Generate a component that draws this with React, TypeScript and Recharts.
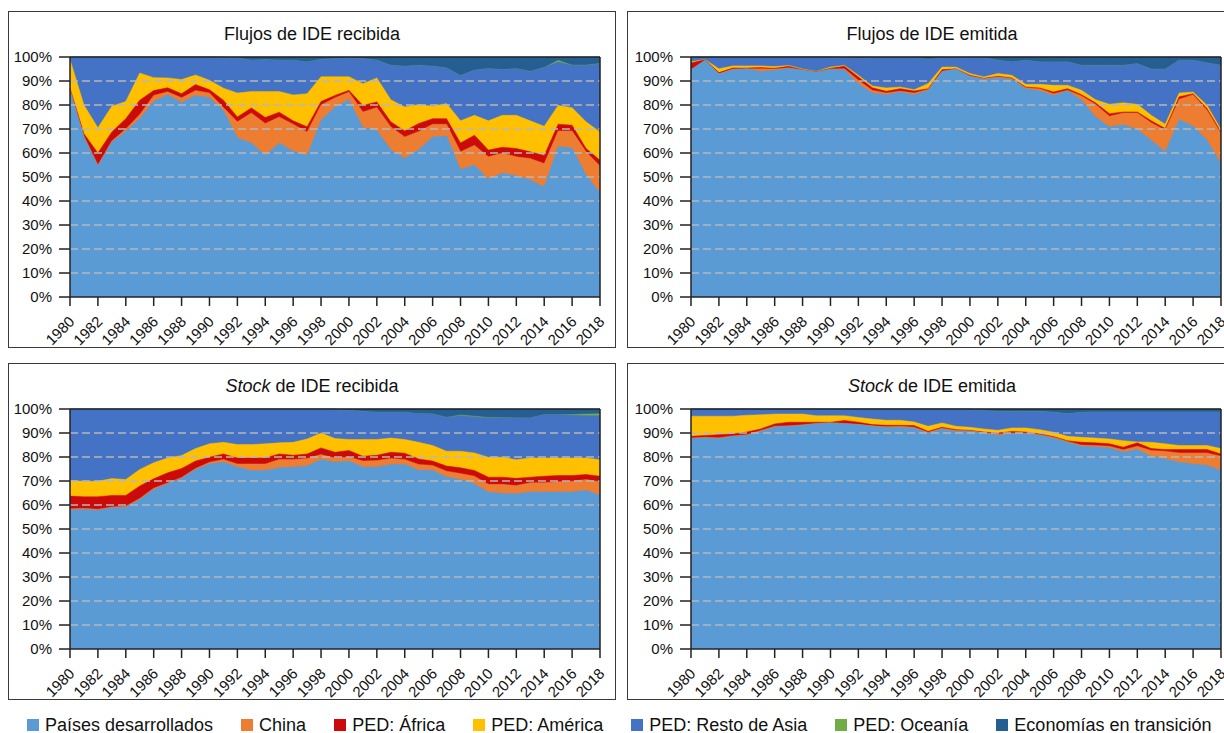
import React from 'react';
import { Area, AreaChart, ReferenceLine, XAxis, YAxis } from 'recharts';

// years on the x axis
const years = [
  1980, 1981, 1982, 1983, 1984, 1985, 1986, 1987, 1988, 1989,
  1990, 1991, 1992, 1993, 1994, 1995, 1996, 1997, 1998, 1999,
  2000, 2001, 2002, 2003, 2004, 2005, 2006, 2007, 2008, 2009,
  2010, 2011, 2012, 2013, 2014, 2015, 2016, 2017, 2018,
];
const yearTicks = [
  1980, 1982, 1984, 1986, 1988, 1990, 1992, 1994, 1996, 1998,
  2000, 2002, 2004, 2006, 2008, 2010, 2012, 2014, 2016, 2018,
];
const pctTicks = [0, 10, 20, 30, 40, 50, 60, 70, 80, 90, 100];
const gridLines = [10, 20, 30, 40, 50, 60, 70, 80, 90];

// Each list is the upper edge (cumulative %) of that group; everything above
// the last one up to 100% is "Economías en transición".

// Flujos de IDE recibida
const frDes = [86, 66.7, 54.6, 64.6, 69, 74.3, 81.5, 84.3, 81, 84, 83, 77.8, 66.4, 64.2, 59, 64.2, 60.7, 59, 73.6, 79.2, 82.2, 70.6, 69.5, 61.4, 57.7, 61.4, 66.7, 67.1, 53.1, 55, 49.1, 51.7, 50.5, 48.7, 45.9, 62.6, 62.1, 50.8, 43.4];
const frChina = [86.3, 67, 55, 65, 70, 76, 84, 85.5, 83, 86, 85, 79, 73, 76.7, 72.3, 75, 72, 68.8, 80, 83, 85.4, 77.1, 79, 70.9, 66.7, 69, 72, 72, 60.5, 63.2, 58.4, 60, 58.4, 57.7, 55.6, 69.2, 69.2, 60.5, 54.6];
const frAfrica = [87, 68, 60, 68.8, 74.3, 82, 86, 87.2, 84.7, 88.5, 86.4, 82, 75, 78.8, 74.8, 77, 73.4, 70.9, 81.5, 84, 86.1, 79.8, 81.3, 73, 69.2, 72.3, 74.3, 74.3, 64.2, 67.4, 61.2, 62.4, 61.9, 60.5, 59, 72, 71.6, 61.9, 57];
const frAmerica = [99, 80, 70.5, 79.5, 81.5, 93.3, 91.4, 91.3, 90.6, 92.5, 90.3, 87, 85, 85.6, 85.6, 85.6, 84.2, 84.7, 91.8, 91.8, 91.8, 88.9, 91.3, 82.2, 79.2, 80.2, 79.5, 80.6, 73.4, 75.7, 73.4, 75.7, 75.7, 73.4, 71.1, 79.8, 78.9, 73, 68.8];
const frAsia = [100, 100, 100, 100, 100, 100, 100, 100, 100, 100, 100, 99.9, 99.6, 98.6, 98.9, 98.6, 98.6, 97.9, 99, 99.3, 99.6, 99.3, 98.6, 96.5, 96.1, 96.5, 96.1, 95.4, 92.2, 94.5, 95.1, 94.7, 95.1, 94, 95.6, 97.9, 96.5, 96.5, 97.2];
const frOceania = [100, 100, 100, 100, 100, 100, 100, 100, 100, 100, 100, 99.9, 99.6, 98.6, 98.9, 98.6, 98.6, 97.9, 99, 99.3, 99.6, 99.3, 98.6, 96.5, 96.1, 96.5, 96.1, 95.4, 92.2, 94.5, 95.1, 94.7, 95.1, 94, 95.6, 98.6, 96.6, 96.6, 97.3];

// Flujos de IDE emitida
const feDes = [94.7, 98.6, 93, 94.7, 95.1, 94, 94.5, 95.3, 94.5, 93.6, 94.9, 94.7, 88.9, 85, 84.3, 85.4, 84.3, 86.1, 94, 94.9, 92, 90.7, 91.4, 90.7, 86.8, 85.9, 84, 85.9, 82, 75, 70.9, 71.8, 69.8, 65.3, 60.5, 73.9, 71.2, 65.3, 55.6];
const feChina = [94.7, 98.6, 93, 95, 95.1, 95.1, 95, 95.5, 94.5, 93.6, 95, 95.1, 90.3, 86.1, 85, 85.8, 85, 86.5, 94, 95, 92, 90.9, 91.7, 91, 87.2, 86.8, 84.7, 86.1, 83.8, 80.3, 75.3, 76.7, 76.7, 72.6, 69.5, 82.4, 84.3, 77.8, 68.1];
const feAfrica = [97.5, 98.9, 93.5, 95.4, 95.4, 95.6, 95.3, 96.1, 94.7, 93.8, 95.3, 96.1, 91.7, 87.2, 85.7, 86.8, 85.8, 86.8, 94.7, 95.1, 92.4, 91.1, 92, 91.3, 87.5, 87.1, 85.4, 86.8, 84.3, 80.9, 76.4, 77.1, 77.1, 73.4, 70.2, 83.4, 84.7, 78.5, 68.8];
const feAmerica = [98, 99, 95.1, 96.3, 96.3, 96.3, 96, 96.5, 95, 94, 95.8, 96.5, 92.4, 87.9, 87.1, 87.5, 86.4, 88.9, 95.8, 95.8, 93.1, 91.7, 93.1, 92.4, 88.6, 88.6, 88.2, 88.2, 86.1, 82.2, 80.3, 80.9, 80.3, 75.7, 72, 85, 85.4, 79.9, 69.8];
const feAsia = [100, 100, 100, 100, 100, 100, 100, 100, 100, 100, 100, 99.8, 99.3, 99.6, 99.6, 99.6, 99.6, 99, 99.6, 99.6, 99.8, 99.7, 98.6, 97.9, 98.6, 97.9, 97.9, 97.9, 96.5, 96.5, 96.5, 96.5, 97.2, 94.9, 94.9, 98.6, 98.6, 97.5, 96.5];
const feOceania = [100, 100, 100, 100, 100, 100, 100, 100, 100, 100, 100, 99.8, 99.3, 99.6, 99.6, 99.6, 99.6, 99, 99.6, 99.6, 99.8, 99.7, 98.6, 97.9, 98.6, 97.9, 97.9, 97.9, 96.5, 96.5, 96.5, 96.5, 97.2, 94.9, 94.9, 98.6, 98.6, 97.5, 96.5];

// Stock de IDE recibida
const srDes = [57.9, 58.2, 57.8, 58.9, 59.1, 62.3, 66.5, 68.8, 71.1, 74.8, 77.1, 77.8, 75.8, 74.4, 74.4, 75.5, 75.8, 76.2, 79, 77.8, 78.3, 75.8, 75.8, 76.9, 76.9, 74.5, 74.4, 71.7, 70.6, 68.8, 65.4, 64.8, 64.7, 65.4, 65.4, 65.4, 65.4, 66.1, 64.1];
const srChina = [58.4, 58.6, 58.2, 59.2, 59.5, 62.7, 67, 69.2, 71.5, 75.2, 77.8, 79, 77.1, 77.1, 77.1, 79, 79, 79.4, 81, 79.6, 80, 78.3, 78.5, 79.4, 79, 76.9, 76.5, 74.1, 73.1, 72, 68.6, 68.6, 68.1, 69.3, 69.3, 69.7, 69.9, 70.6, 69.7];
const srAfrica = [63.7, 63.4, 63.4, 64, 64, 67.9, 70.9, 73.4, 75.2, 78.3, 79.9, 81.3, 79.6, 79.6, 79.6, 81.3, 80.7, 81.3, 83.8, 82, 82.7, 80.3, 80.7, 82, 81.6, 79.2, 78.3, 76.2, 75.5, 74.4, 71.6, 71.6, 71.1, 71.6, 72, 72.3, 72.3, 72.7, 72];
const srAmerica = [70.2, 69.9, 69.9, 71, 70.6, 74.8, 77.6, 79.6, 80.6, 83.5, 85.5, 86.1, 85.2, 85.2, 85.5, 85.9, 86.1, 87.5, 90, 87.7, 87.3, 87.3, 87.3, 87.9, 87.3, 86.1, 84.8, 82.4, 82.4, 81.7, 79.9, 79.9, 78.9, 79.6, 79.6, 79.6, 79.6, 79.6, 78.9];
const srAsia = [100, 100, 100, 100, 100, 100, 100, 100, 100, 100, 100, 100, 100, 100, 100, 100, 100, 100, 100, 100, 99.4, 99, 98.6, 98.6, 98.6, 98, 97.9, 96.5, 97.2, 96.7, 96.3, 96.3, 96.3, 96.3, 97.6, 97.6, 97.4, 97.2, 97.2];
const srOceania = [100, 100, 100, 100, 100, 100, 100, 100, 100, 100, 100, 100, 100, 100, 100, 100, 100, 100, 100, 100, 99.4, 99, 98.6, 98.6, 98.6, 98, 97.9, 96.5, 97.5, 97, 96.5, 96.4, 96.3, 96.3, 97.6, 97.6, 97.7, 97.9, 98];

// Stock de IDE emitida
const seDes = [87.7, 88, 87.7, 88.6, 89, 90.7, 92.5, 92.8, 93.2, 93.9, 94.2, 93.9, 93.5, 92.8, 92.4, 92.4, 92.1, 90, 91.7, 90.7, 90.7, 90, 89, 89.8, 89.8, 89, 87.9, 86.1, 84.5, 84.2, 83.8, 82.1, 83.1, 80.3, 79.2, 77.8, 77.1, 76.5, 74.5];
const seChina = [87.9, 88.2, 88, 88.8, 89.3, 91, 92.8, 93, 93.4, 94, 94.3, 94, 93.6, 93, 92.6, 92.8, 92.4, 90.3, 92, 91, 90.9, 90.2, 89.5, 90, 90, 89.3, 88.2, 86.5, 85, 84.8, 84.5, 83, 84.5, 82.7, 82.4, 81.7, 81.7, 81.7, 80.3];
const seAfrica = [88.6, 89, 89.3, 89.6, 90.4, 91.7, 93.8, 94.5, 94.5, 94.5, 94.5, 95.2, 94.5, 93.5, 93.2, 93.2, 93.1, 90.7, 92.4, 91.4, 91.1, 90.4, 90, 90.6, 90.4, 89.6, 88.5, 86.8, 86.1, 85.9, 85.5, 84.1, 85.9, 83.5, 83.1, 83.1, 83.1, 83.1, 81.3];
const seAmerica = [97, 97, 97, 97, 97.4, 97.6, 97.9, 97.9, 97.9, 97.2, 97.2, 97.2, 96.5, 95.8, 95.3, 95.3, 94.6, 92.8, 94.2, 92.8, 92.4, 91.7, 91.1, 92.1, 92.1, 91.4, 90.3, 88.6, 88.2, 87.9, 87.5, 86.8, 86.3, 86.1, 85.5, 84.8, 84.8, 84.8, 83.5];
const seAsia = [100, 100, 100, 100, 100, 100, 100, 100, 100, 100, 100, 100, 100, 100, 100, 100, 100, 100, 100, 100, 100, 99.3, 99, 99, 99, 99, 98.6, 98, 98.6, 98.7, 98.7, 98.7, 98.7, 98.7, 98.7, 98.7, 98.7, 98.7, 98.7];
const seOceania = [100, 100, 100, 100, 100, 100, 100, 100, 100, 100, 100, 100, 100, 100, 100, 100, 100, 100, 100, 100, 100, 99.3, 99, 99, 99, 99, 98.6, 98, 98.6, 98.7, 98.7, 98.7, 98.7, 98.7, 98.7, 98.7, 98.7, 98.7, 98.7];

const series = [
  { key: 'trans', name: 'Economías en transición', color: '#255E91' },
  { key: 'oceania', name: 'PED: Oceanía', color: '#70AD47' },
  { key: 'asia', name: 'PED: Resto de Asia', color: '#4472C4' },
  { key: 'america', name: 'PED: América', color: '#FFC000' },
  { key: 'africa', name: 'PED: África', color: '#CC0A0A' },
  { key: 'china', name: 'China', color: '#ED7D31' },
  { key: 'des', name: 'Países desarrollados', color: '#5B9BD5' },
];

const buildRows = (
  des: number[], china: number[], africa: number[], america: number[], asia: number[], oceania: number[],
) =>
  years.map((year, i) => ({
    year,
    trans: 100,
    oceania: oceania[i],
    asia: asia[i],
    america: america[i],
    africa: africa[i],
    china: china[i],
    des: des[i],
  }));

const FONT = '"Liberation Sans", Arial, Helvetica, sans-serif';

type PanelProps = {
  rows: ReturnType<typeof buildRows>;
  left: number;
  top: number;
  width: number;
  height: number;
  marginLeft: number;
  title: React.ReactNode;
};

function Panel({ rows, left, top, width, height, marginLeft, title }: PanelProps) {
  return (
    <>
      <div
        style={{
          position: 'absolute', left, top, width, height, boxSizing: 'border-box',
          border: '1.5px solid #3a3a3a',
        }}
      />
      <div
        style={{
          position: 'absolute', left, top: top + 14, width, textAlign: 'center',
          fontSize: 18, lineHeight: '18px', color: '#111',
        }}
      >
        {title}
      </div>
      <div style={{ position: 'absolute', left, top }}>
        <AreaChart
          width={width}
          height={height}
          data={rows}
          margin={{ top: 46, right: 16, bottom: 0, left: marginLeft }}
        >
          <XAxis
            dataKey="year"
            type="number"
            domain={[1980, 2018]}
            ticks={yearTicks}
            interval={0}
            angle={-45}
            textAnchor="end"
            height={51}
            tickSize={9}
            tickMargin={9}
            tick={{ fontSize: 15, fill: '#111', dx: -2 }}
            axisLine={{ stroke: '#222', strokeWidth: 1.5 }}
            tickLine={{ stroke: '#222', strokeWidth: 1.5 }}
          />
          <YAxis
            domain={[0, 100]}
            ticks={pctTicks}
            interval={0}
            width={55}
            tickSize={11}
            tickMargin={7}
            tickFormatter={(v: number) => `${v}%`}
            tick={{ fontSize: 15, fill: '#111' }}
            axisLine={{ stroke: '#222', strokeWidth: 1.5 }}
            tickLine={{ stroke: '#222', strokeWidth: 1.5 }}
          />
          {series.map((s) => (
            <Area
              key={s.key}
              type="linear"
              dataKey={s.key}
              name={s.name}
              stroke={s.color}
              strokeWidth={0.5}
              fill={s.color}
              fillOpacity={1}
              baseValue={0}
              dot={false}
              activeDot={false}
              isAnimationActive={false}
            />
          ))}
          {gridLines.map((g) => (
            <ReferenceLine key={g} y={g} stroke="#b8b8b8" strokeWidth={1.5} strokeDasharray="8 4" />
          ))}
          <ReferenceLine y={100} stroke="#222" strokeWidth={1.5} />
          <ReferenceLine x={2018} stroke="#222" strokeWidth={1.5} />
        </AreaChart>
      </div>
    </>
  );
}

const legendOrder = [...series].reverse();

export default function App() {
  const fr = buildRows(frDes, frChina, frAfrica, frAmerica, frAsia, frOceania);
  const fe = buildRows(feDes, feChina, feAfrica, feAmerica, feAsia, feOceania);
  const sr = buildRows(srDes, srChina, srAfrica, srAmerica, srAsia, srOceania);
  const se = buildRows(seDes, seChina, seAfrica, seAmerica, seAsia, seOceania);

  return (
    <div
      style={{
        position: 'fixed', left: 0, top: 0, width: 1224, height: 733, overflow: 'hidden',
        background: '#fff', fontFamily: FONT,
      }}
    >
      <Panel rows={fr} left={8} top={11} width={608} height={337} marginLeft={7} title="Flujos de IDE recibida" />
      <Panel rows={fe} left={627} top={11} width={610} height={337} marginLeft={9} title="Flujos de IDE emitida" />
      <Panel
        rows={sr}
        left={8}
        top={363}
        width={608}
        height={337}
        marginLeft={7}
        title={<><i>Stock</i> de IDE recibida</>}
      />
      <Panel
        rows={se}
        left={627}
        top={363}
        width={610}
        height={337}
        marginLeft={9}
        title={<><i>Stock</i> de IDE emitida</>}
      />
      <div
        style={{
          position: 'absolute', left: 27, top: 715, display: 'flex', alignItems: 'center',
          gap: 28, fontSize: 18, lineHeight: '20px', color: '#111', whiteSpace: 'nowrap',
        }}
      >
        {legendOrder.map((s) => (
          <div key={s.key} style={{ display: 'flex', alignItems: 'center', gap: 6 }}>
            <span style={{ width: 12, height: 12, background: s.color, display: 'inline-block' }} />
            <span>{s.name}</span>
          </div>
        ))}
      </div>
    </div>
  );
}
